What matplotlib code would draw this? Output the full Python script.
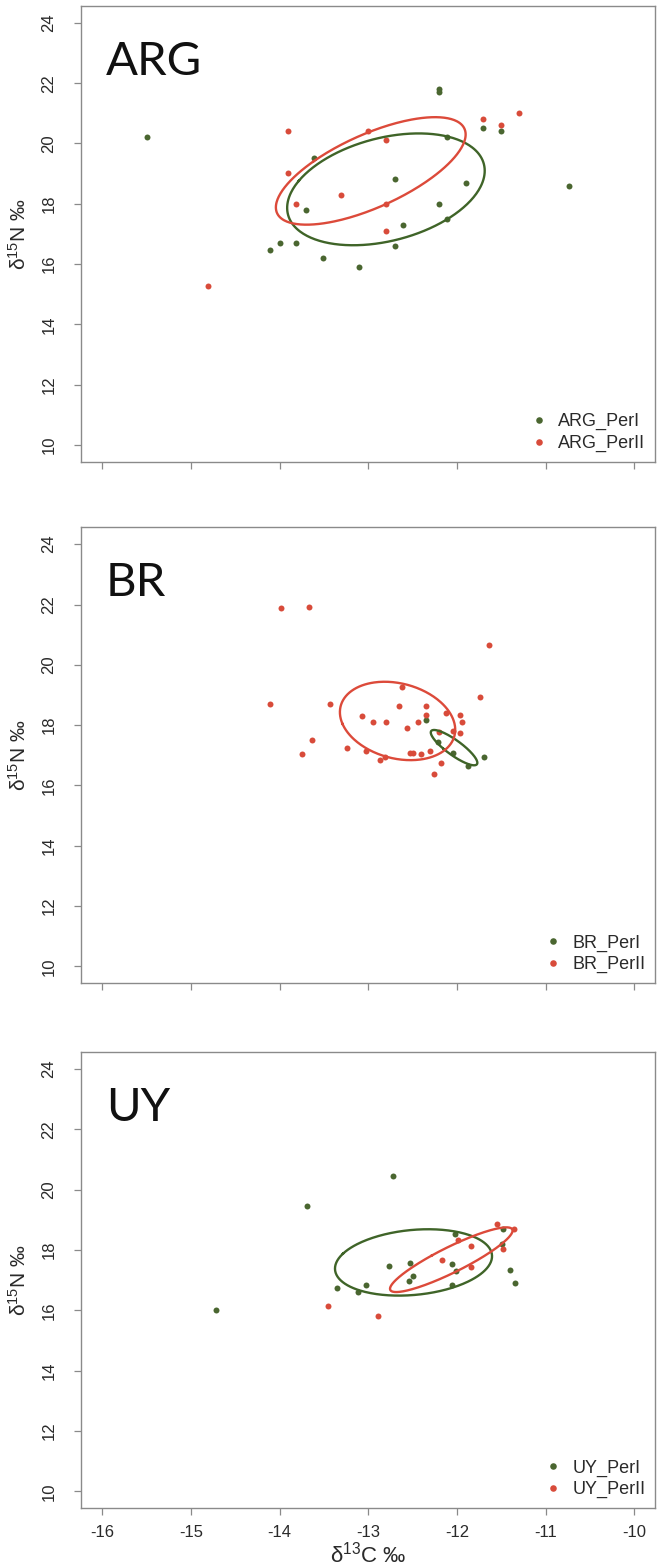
import numpy as np
import matplotlib
matplotlib.use('Agg')
import matplotlib.pyplot as plt

plt.rcParams['font.family'] = ['Liberation Sans', 'DejaVu Sans']
plt.rcParams['mathtext.fontset'] = 'custom'
plt.rcParams['mathtext.rm'] = 'Liberation Sans'
plt.rcParams['mathtext.it'] = 'Liberation Sans:italic'
plt.rcParams['axes.unicode_minus'] = False

# d13C / d15N values
arg_perI_c = [-15.50, -12.20, -12.20, -13.61, -12.11, -11.71, -11.50, -12.70, -11.90, -13.70,
              -12.20, -12.61, -12.11, -14.11, -14.00, -13.81, -12.70, -13.51, -13.10, -10.73]
arg_perI_n = [20.20, 21.80, 21.70, 19.51, 20.20, 20.51, 20.41, 18.81, 18.70, 17.81,
              18.00, 17.29, 17.50, 16.48, 16.70, 16.70, 16.59, 16.19, 15.89, 18.60]
arg_perII_c = [-13.91, -13.00, -12.80, -13.91, -13.81, -13.31, -12.80, -12.80, -14.81, -11.71, -11.50, -11.30]
arg_perII_n = [20.42, 20.42, 20.11, 19.01, 18.00, 18.30, 18.00, 17.10, 15.29, 20.81, 20.61, 21.01]

br_perI_c = [-12.35, -12.21, -12.04, -11.87, -11.69]
br_perI_n = [18.17, 17.43, 17.09, 16.64, 16.94]
br_perII_c = [-13.98, -13.67, -11.64, -14.11, -13.43, -11.74, -12.62, -12.65, -12.35, -12.35,
              -13.07, -12.95, -12.80, -12.44, -12.56, -12.12, -11.97, -11.94, -12.04, -11.96,
              -12.20, -13.63, -13.75, -13.24, -13.03, -12.87, -12.81, -12.53, -12.49, -12.41,
              -12.30, -12.18, -12.26]
br_perII_n = [21.87, 21.92, 20.65, 18.70, 18.70, 18.93, 19.28, 18.63, 18.63, 18.34,
              18.29, 18.11, 18.11, 18.12, 17.92, 18.39, 18.34, 18.11, 17.79, 17.74,
              17.78, 17.51, 17.03, 17.23, 17.15, 16.85, 16.96, 17.08, 17.08, 17.04,
              17.15, 16.76, 16.39]

uy_perI_c = [-14.72, -13.69, -12.72, -13.35, -13.12, -13.03, -12.77, -12.53, -12.49, -12.54,
             -12.06, -12.01, -12.05, -12.02, -11.49, -11.48, -11.40, -11.34]
uy_perI_n = [16.02, 19.45, 20.44, 16.73, 16.60, 16.83, 17.48, 17.57, 17.13, 16.99,
             17.54, 17.31, 16.85, 18.54, 18.20, 18.70, 17.33, 16.92]
uy_perII_c = [-13.45, -12.89, -12.17, -11.84, -11.84, -11.99, -11.55, -11.36, -11.48]
uy_perII_n = [16.13, 15.80, 17.68, 17.44, 18.15, 18.34, 18.86, 18.70, 18.03]

regions = ['ARG', 'BR', 'UY']
groups = {
    'ARG': [(arg_perI_c, arg_perI_n), (arg_perII_c, arg_perII_n)],
    'BR': [(br_perI_c, br_perI_n), (br_perII_c, br_perII_n)],
    'UY': [(uy_perI_c, uy_perI_n), (uy_perII_c, uy_perII_n)],
}
periods = ['PerI', 'PerII']
dot_colors = ['#4a6630', '#d84b3a']
line_colors = ['#3f6428', '#dc4a3a']


# standard ellipse (1 SD) from the sample covariance
def std_ellipse(x, y, npts=300):
    x = np.asarray(x)
    y = np.asarray(y)
    vals, vecs = np.linalg.eigh(np.cov(x, y))
    t = np.linspace(0, 2 * np.pi, npts)
    circ = np.vstack([np.cos(t), np.sin(t)])
    pts = vecs @ (np.sqrt(vals)[:, None] * circ)
    return x.mean() + pts[0], y.mean() + pts[1]


fig = plt.figure(figsize=(6.57, 15.67), dpi=100)
bottoms = [0.7052, 0.3725, 0.0375]

for i, reg in enumerate(regions):
    ax = fig.add_axes([0.1233, bottoms[i], 0.8744, 0.2910])
    for j, (c, n) in enumerate(groups[reg]):
        ax.plot(c, n, 'o', ms=4.3, color=dot_colors[j], mec='none',
                label=reg + '_' + periods[j])
    for j, (c, n) in enumerate(groups[reg]):
        ex, ey = std_ellipse(c, n)
        ax.plot(ex, ey, '-', color=line_colors[j], lw=1.7)

    ax.set_xlim(-16.24, -9.76)
    ax.set_ylim(9.44, 24.56)
    ax.set_xticks(np.arange(-16, -9, 1))
    ax.set_yticks(np.arange(10, 25, 2))
    for s in ax.spines.values():
        s.set_color('#8a8a8a')
        s.set_linewidth(1.0)
    ax.tick_params(colors='#8a8a8a', labelcolor='#2a2a2a', length=5, width=0.9,
                   labelsize=12)
    ax.tick_params(axis='y', pad=18)
    plt.setp(ax.get_yticklabels(), rotation=90, va='center', ha='center')
    if i < 2:
        ax.tick_params(axis='x', labelbottom=False)
    else:
        ax.tick_params(axis='x', pad=7)
        ax.set_xlabel('δ$^{13}$C ‰', fontsize=16, color='#2a2a2a', labelpad=1)
    ax.set_ylabel('δ$^{15}$N ‰', fontsize=15, color='#2a2a2a')
    ax.yaxis.set_label_coords(-0.09, 0.5)

    ax.text(0.043, 0.849, reg, transform=ax.transAxes, fontsize=34,
            family='Lato', va='baseline', ha='left', color='#111111')

    leg = ax.legend(loc='lower right', frameon=False, fontsize=13, markerscale=1.1,
                    handletextpad=0.55, labelspacing=0.25, borderaxespad=0.15,
                    handlelength=1.0)
    for t in leg.get_texts():
        t.set_color('#2a2a2a')

fig.savefig('out.png', dpi=100)
